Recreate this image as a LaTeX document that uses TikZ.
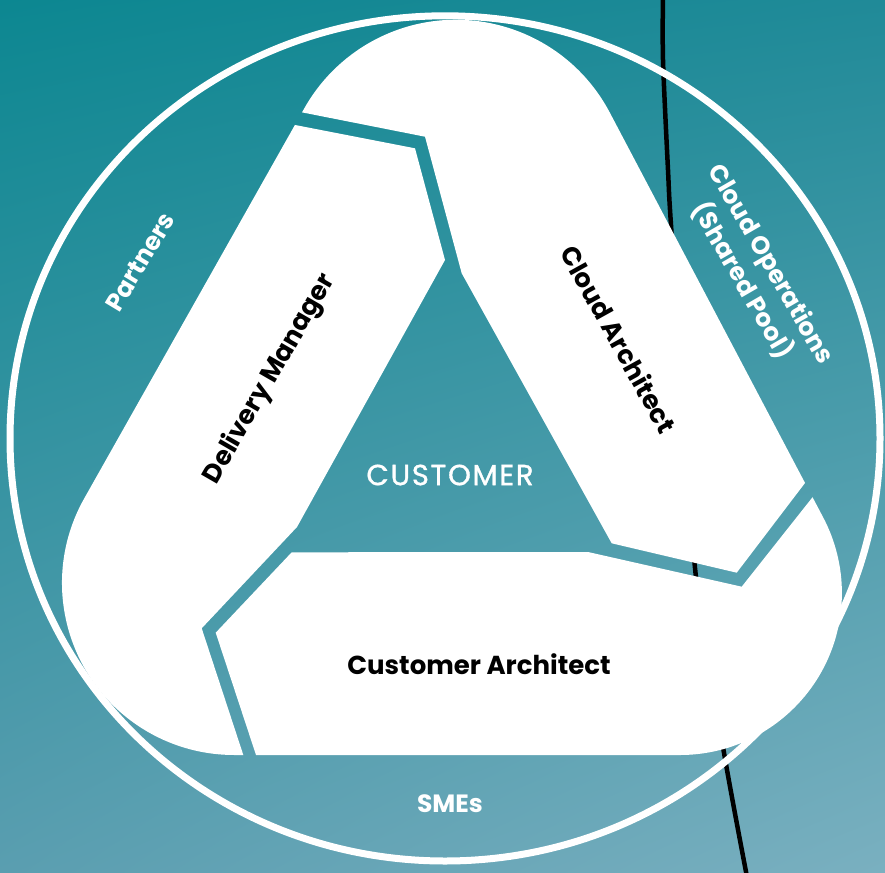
\documentclass[tikz,border=0pt]{standalone}
\usepackage{fontspec}
\setmainfont{Poppins}
\usetikzlibrary{shadings}
\definecolor{bgul}{RGB}{12,135,145}
\definecolor{bgur}{RGB}{32,138,152}
\definecolor{bgll}{RGB}{90,158,176}
\definecolor{bglr}{RGB}{122,176,192}
\begin{document}
\begin{tikzpicture}[x=1pt,y=-1pt]
      \tikzstyle{role} = [font=\bfseries\fontsize{26}{30}\selectfont,text=black];
      \tikzstyle{pool} = [font=\bfseries\fontsize{25}{33}\selectfont,text=white,align=center];
      \tikzstyle{piece} = [fill=white,draw=none];
      \useasboundingbox (0,0) rectangle (885,872);
      \shade [upper left=bgul,upper right=bgur,lower left=bgll,lower right=bglr] (0,0) rectangle (885,872);
      \draw [line width=4.5pt] plot [smooth] coordinates {(663,-5) (663,60) (668,170) (672,240) (695,568) (723,747) (747,877)};
      \begin{scope}
        \clip (234,755) -- (679.9,755) arc [start angle=90,end angle=-27.8,radius=162]
          -- (609.8,112.6) arc [start angle=-27.8,end angle=-150.6,radius=174]
          -- (84.3,498.3) arc [start angle=209.5,end angle=90,radius=172] -- cycle;
        \fill [piece] (235,113.3) -- (415,148.3) -- (445,260) -- (297,527) -- (201.7,628.3) -- (255.8,793) -- (-100,793) -- (-100,113.3) -- cycle;
        \fill [piece] (221.7,96.5) -- (301.7,112.3) -- (425,136.7) -- (461.7,273.3) -- (611.7,543.3) -- (736.7,572.7) -- (832.3,447.1) -- (1000,447.1) -- (1000,-50) -- (221.7,-50) -- cycle;
        \fill [piece] (268.1,791.7) -- (215.7,632.7) -- (291.7,552.3) -- (588,552) -- (741.7,586.7) -- (839.7,462.9) -- (1000,462.9) -- (1000,900) -- (268.1,900) -- cycle;
      \end{scope}
      \draw [white,line width=7pt] (445,438.4) ellipse [x radius=435,y radius=422.6];
      \node [role,rotate=60] (manager) at (270,379) {Delivery Manager};
      \node [role,rotate=-61] (cloudarch) at (619,339) {Cloud Architect};
      \node [role] (custarch) at (479,664) {Customer Architect};
      \node [font=\fontsize{29}{32}\selectfont\addfontfeature{FakeBold=1.2,LetterSpace=6},text=white] (customer) at (450,475) {CUSTOMER};
      \node [pool] (smes) at (450,804) {SMEs};
      \node [pool,rotate=59] (partners) at (140,262) {Partners};
      \node [pool,rotate=-60] (cloudops) at (756,273) {Cloud Operations\\(Shared Pool)};
\end{tikzpicture}
\end{document}
